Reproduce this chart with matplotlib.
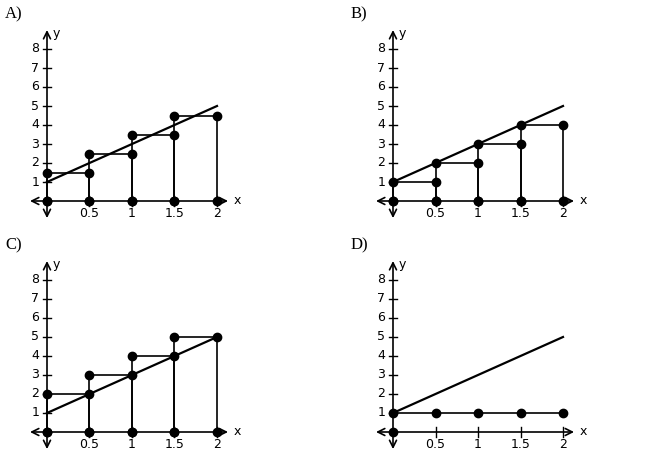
import matplotlib
matplotlib.use("Agg")
import matplotlib.pyplot as plt

W, H = 653, 463
SX, SY = 85.0, 19.0  # px per unit

xs = [0, 0.5, 1, 1.5, 2]
line_x = [0, 2]
line_y = [1, 5]
heights_A = [1.5, 2.5, 3.5, 4.5]
heights_B = [1, 2, 3, 4]
heights_C = [2, 3, 4, 5]
heights_D = [1, 1, 1, 1]
y_ticks = [1, 2, 3, 4, 5, 6, 7, 8]
x_ticks = [0.5, 1, 1.5, 2]
x_labels = ["0.5", "1", "1.5", "2"]

panels = [("A)", heights_A, (47, 201), (5, 14), "mid"),
          ("B)", heights_B, (393, 201), (351, 14), "left"),
          ("C)", heights_C, (47, 432), (5, 245), "right"),
          ("D)", heights_D, (393, 432), (351, 245), "flat")]

fig = plt.figure(figsize=(W / 100, H / 100), dpi=100)
X0, X1, Y0, Y1 = -0.3, 2.5, -1.2, 9.5

for name, hts, (ox, oy), (lx, ly), kind in panels:
    left = ox + X0 * SX
    top = oy - Y1 * SY
    ax = fig.add_axes([left / W, 1 - (top + (Y1 - Y0) * SY) / H,
                       (X1 - X0) * SX / W, (Y1 - Y0) * SY / H])
    ax.set_xlim(X0, X1)
    ax.set_ylim(Y0, Y1)
    ax.axis("off")
    fig.text(lx / W, 1 - ly / H, name, fontsize=12, family="Liberation Serif",
             va="center", ha="left")
    kw = dict(arrowstyle="<->,head_length=0.5,head_width=0.25", color="black", lw=1.2,
              shrinkA=0, shrinkB=0)
    ax.annotate("", xy=(2.13, 0), xytext=(-0.2, 0), arrowprops=kw)
    ax.annotate("", xy=(0, 9.0), xytext=(0, -0.9), arrowprops=kw)
    ax.text(2.2, 0, "x", fontsize=9, va="center", ha="left")
    ax.text(0.07, 8.8, "y", fontsize=9, va="center", ha="left")
    for t in y_ticks:
        ax.plot([-0.045, 0.045], [t, t], color="black", lw=1)
        ax.text(-0.09, t, str(t), fontsize=9, ha="right", va="center")
    for t, lab in zip(x_ticks, x_labels):
        ax.plot([t, t], [-0.25, 0.25], color="black", lw=1)
        ax.text(t, -0.65, lab, fontsize=9, ha="center", va="center")
    ax.plot(line_x, line_y, color="black", lw=1.6)
    ax.plot([0], [0], "o", color="black", ms=6)
    if kind == "flat":
        ax.plot(xs, [1] * len(xs), "o-", color="black", ms=6, lw=1.2)
        continue
    for i, h in enumerate(hts):
        a, b = xs[i], xs[i + 1]
        ax.plot([a, a, b, b], [0, h, h, 0], color="black", lw=1.2)
        ax.plot([a, b], [h, h], "o", color="black", ms=6)
        ax.plot([a, b], [0, 0], "o", color="black", ms=6)

fig.savefig("out.png", dpi=100)
